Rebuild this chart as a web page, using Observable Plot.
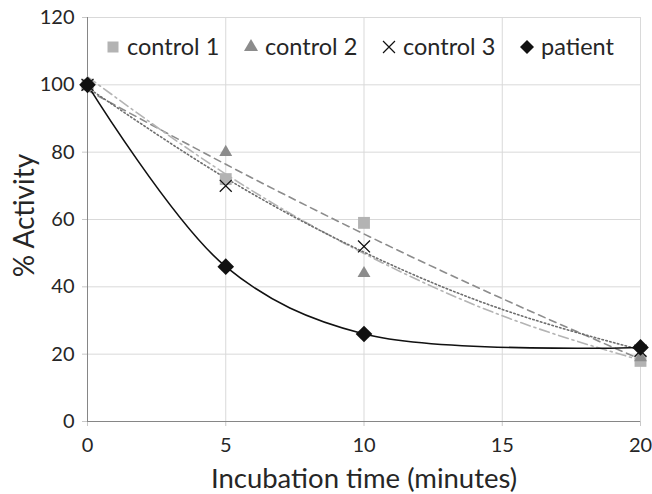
<!DOCTYPE html>
<html>
<head>
<meta charset="utf-8">
<script src="https://cdn.jsdelivr.net/npm/d3@7"></script>
<script src="https://cdn.jsdelivr.net/npm/@observablehq/plot@0.6"></script>
<style>
  body { margin: 0; background: #fff; }
  #wrap { position: relative; width: 652px; height: 494px; font-family: Lato, "Open Sans", sans-serif; }
  #legend { position: absolute; left: 0; top: 0; pointer-events: none; }
</style>
</head>
<body>
<div id="wrap"><div id="chart"></div><svg id="legend" width="652" height="80"></svg></div>
<script>
// ---- data ----
const times = [0, 5, 10, 20];
const control1 = [100, 72, 59, 18];
const control2 = [100, 80, 44, 19];
const control3 = [100, 70, 52, 21];
const patient  = [100, 46, 26, 22];

// trendlines (2nd-order) at these times
const trendTimes = [0, 5, 10, 15, 20];
const trend1 = [98.4, 76.4, 55.7, 36.5, 18.5];   // dashed
const trend2 = [102.4, 73.5, 49.9, 31.4, 18.2];  // dash-dot
const trend3 = [99.2, 72.3, 50.3, 33.3, 21.3];   // dotted

const seriesNames = ["control 1", "control 2", "control 3", "patient"];
const xTicks = [0, 5, 10, 15, 20];
const yTicks = [0, 20, 40, 60, 80, 100, 120];
const xTitle = "Incubation time (minutes)";
const yTitle = "% Activity";

// ---- tables ----
const pts = (vals) => times.map((t, i) => ({t, v: vals[i]}));
const tpts = (vals) => trendTimes.map((t, i) => ({t, v: vals[i]}));

const textColor = "#262626";
const chart = Plot.plot({
  width: 652,
  height: 494,
  marginLeft: 87,
  marginRight: 12,
  marginTop: 17,
  marginBottom: 73,
  style: { fontFamily: "Lato, 'Open Sans', sans-serif", color: textColor, background: "#fff" },
  x: { domain: [0, 20] },
  y: { domain: [0, 120] },
  marks: [
    Plot.gridY(yTicks.slice(1), { stroke: "#d9d9d9", strokeOpacity: 1 }),
    Plot.gridX(xTicks.slice(1), { stroke: "#d9d9d9", strokeOpacity: 1 }),
    Plot.axisY(yTicks, { tickSize: 5, tickPadding: 8, stroke: "#c8c8c8", fill: textColor, fontSize: 20, label: null }),
    Plot.axisX(xTicks, { tickSize: 5, tickPadding: 11, stroke: "#c8c8c8", fill: textColor, fontSize: 20, label: null }),
    Plot.ruleY([0], { stroke: "#868686", strokeWidth: 1 }),
    Plot.ruleX([0], { stroke: "#868686", strokeWidth: 1 }),
    Plot.text([xTitle], { frameAnchor: "bottom", lineAnchor: "middle", textAnchor: "middle", dy: 58, fontSize: 27.5, fill: textColor }),
    Plot.text([yTitle], { frameAnchor: "left", lineAnchor: "middle", textAnchor: "middle", dx: -62, dy: -4, rotate: -90, fontSize: 28, fill: textColor }),
    // trendlines
    Plot.line(tpts(trend1), { x: "t", y: "v", curve: "natural", stroke: "#8c8c8c", strokeWidth: 1.6, strokeDasharray: "7,5" }),
    Plot.line(tpts(trend2), { x: "t", y: "v", curve: "natural", stroke: "#b4b4b4", strokeWidth: 1.6, strokeDasharray: "10,4,2,4" }),
    Plot.line(tpts(trend3), { x: "t", y: "v", curve: "natural", stroke: "#6e6e6e", strokeWidth: 1.6, strokeDasharray: "1.5,2.5" }),
    // patient smoothed line
    Plot.line(pts(patient), { x: "t", y: "v", curve: "catmull-rom", stroke: "#111", strokeWidth: 1.6 }),
    // markers
    Plot.dot(pts(control1), { x: "t", y: "v", symbol: "square", r: 6.7, fill: "#b3b3b3" }),
    Plot.dot(pts(control2), { x: "t", y: "v", symbol: "triangle", r: 4.8, fill: "#8c8c8c" }),
    Plot.dot(pts(control3), { x: "t", y: "v", symbol: "times", r: 5.5, stroke: "#111", strokeWidth: 1.3 }),
    Plot.dot(pts(patient), { x: "t", y: "v", symbol: "diamond2", r: 7.5, fill: "#111", stroke: "none" })
  ]
});
document.getElementById("chart").appendChild(chart);

// ---- legend (inside plot area, top) ----
const leg = d3.select("#legend");
const legSymbols = [
  { type: d3.symbolSquare, size: 121, fill: "#b3b3b3", stroke: "none" },
  { type: d3.symbolTriangle, size: 85, fill: "#8c8c8c", stroke: "none" },
  { type: d3.symbolTimes, size: 95, fill: "none", stroke: "#111" },
  { type: d3.symbolDiamond2, size: 125, fill: "#111", stroke: "none" }
];
seriesNames.forEach((name, i) => {
  const g = leg.append("g").attr("transform", `translate(${107 + 138 * i},47)`);
  const s = legSymbols[i];
  g.append("path")
    .attr("d", d3.symbol(s.type, s.size)())
    .attr("transform", "translate(6,0)")
    .attr("fill", s.fill).attr("stroke", s.stroke).attr("stroke-width", 1.2);
  g.append("text").attr("x", 20).attr("y", 8)
    .attr("font-size", 23.5).attr("fill", textColor)
    .attr("font-family", "Lato, 'Open Sans', sans-serif")
    .text(name);
});
</script>
</body>
</html>
